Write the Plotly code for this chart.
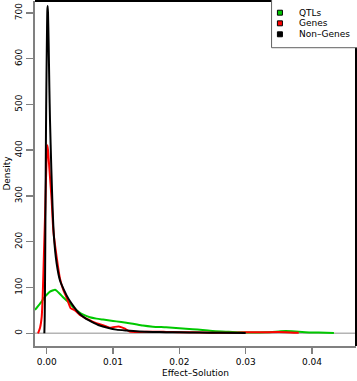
import plotly.graph_objects as go

# ---- data ----
series_names = ["QTLs", "Genes", "Non\u2013Genes"]
series_colors = ["#00c800", "#ff0000", "#000000"]

qtl_x = [-0.00176, -0.001, -0.00075, -0.0005, 0.0, 0.0005, 0.001, 0.00125, 0.0015, 0.002, 0.0026,
         0.0033, 0.004, 0.0048, 0.0056, 0.0065, 0.0075, 0.0085, 0.0095, 0.0105, 0.012, 0.013,
         0.0145, 0.016, 0.018, 0.02, 0.022, 0.0235, 0.025, 0.027, 0.029, 0.031, 0.033, 0.035,
         0.036, 0.037, 0.039, 0.041, 0.0433]
qtl_y = [51, 65, 69, 76, 84, 91, 94, 95, 93, 86, 77,
         68, 57, 47, 40, 35, 32, 30, 28, 26, 23, 21,
         17, 14.5, 13, 11, 9, 7, 5, 3.5, 2, 1.5, 2, 4,
         5, 4.5, 2.5, 1.5, 0.5]

gene_x = [-0.0013, -0.001, -0.00075, -0.0006, -0.0004, -0.0002, 0.0, 0.0001, 0.0002, 0.0005,
          0.00075, 0.001, 0.0015, 0.002, 0.0025, 0.003, 0.0033, 0.0036, 0.004, 0.0045, 0.005,
          0.006, 0.007, 0.0075, 0.008, 0.009, 0.0095, 0.0103, 0.011, 0.0118, 0.0125, 0.014,
          0.016, 0.018, 0.02, 0.022, 0.025, 0.028, 0.03, 0.033, 0.036, 0.038]
gene_y = [0, 12, 36, 80, 180, 280, 390, 411, 400, 341,
          291, 225, 167, 120, 95, 78, 66, 55, 52, 47, 40,
          32, 25, 22, 20, 15, 12, 14, 14.5, 10, 4, 3,
          3.5, 3, 2.5, 2, 1, 1, 2, 2.5, 2.5, 1]

nongene_x = [-0.00035, -0.0003, -0.00025, -0.0002, -0.00015, -0.0001, -0.00005, 0.0, 0.00005,
             0.0001, 0.00015, 0.0002, 0.0003, 0.0004, 0.0005, 0.0007, 0.0009, 0.0011, 0.0015,
             0.002, 0.0026, 0.0033, 0.004, 0.0048, 0.0058, 0.0068, 0.008, 0.0092, 0.0105, 0.012,
             0.014, 0.016, 0.018, 0.02, 0.023, 0.026, 0.03]
nongene_y = [0, 30, 110, 220, 340, 450, 530, 600, 660,
             705, 715, 700, 630, 540, 466, 360, 270, 210, 153,
             116, 95, 75, 60, 45, 33, 25, 17, 12, 8, 6,
             4, 3, 2.5, 2, 1.5, 1, 0.5]

x_ticks = [0.00, 0.01, 0.02, 0.03, 0.04]
x_tick_labels = ["0.00", "0.01", "0.02", "0.03", "0.04"]
y_ticks = [0, 100, 200, 300, 400, 500, 600, 700]

FONT = "DejaVu Sans"
fig = go.Figure()

# baseline at density 0
fig.add_hline(y=0, line=dict(color="#b4b4b4", width=1.5), layer="below")

for xs, ys, name, col in [(qtl_x, qtl_y, series_names[0], series_colors[0]),
                          (gene_x, gene_y, series_names[1], series_colors[1]),
                          (nongene_x, nongene_y, series_names[2], series_colors[2])]:
    fig.add_trace(go.Scatter(x=xs, y=ys, mode="lines", name=name, showlegend=False,
                             line=dict(color=col, width=2, shape="spline", smoothing=0.6)))

# top/right black frame
fig.add_shape(type="line", xref="paper", yref="paper", x0=0, x1=1, y0=1, y1=1,
              line=dict(color="black", width=2))
fig.add_shape(type="line", xref="paper", yref="paper", x0=1, x1=1, y0=0, y1=1,
              line=dict(color="black", width=2))

# custom legend (box, squares, labels)
fig.add_shape(type="rect", xref="paper", yref="paper", x0=0.737, x1=1.01, y0=0.8646, y1=1.01,
              line=dict(color="#606060", width=1), fillcolor="white")
leg_y = [0.9661, 0.9353, 0.9035]
for name, col, yy in zip(series_names, series_colors, leg_y):
    fig.add_shape(type="rect", xref="paper", yref="paper",
                  x0=0.763 - 0.0078, x1=0.763 + 0.0078, y0=yy - 0.0072, y1=yy + 0.0072,
                  line=dict(color="black", width=1), fillcolor=col)
    fig.add_annotation(xref="paper", yref="paper", x=0.816, y=yy, text=name, showarrow=False,
                       xanchor="left", yanchor="middle", font=dict(family=FONT, size=9, color="black"))

fig.update_layout(
    width=357, height=381,
    margin=dict(l=35, r=1, t=1, b=35, autoexpand=False),
    plot_bgcolor="white", paper_bgcolor="white",
    font=dict(family=FONT, size=9, color="black"),
    xaxis=dict(range=[-0.00176, 0.04663], tickvals=x_ticks, ticktext=x_tick_labels,
               automargin=False,
               showgrid=False, zeroline=False, showline=True, linecolor="#808080", linewidth=2,
               ticks="outside", ticklen=6, tickcolor="#808080", tickwidth=1.5,
               title=dict(text="Effect\u2013Solution", standoff=4, font=dict(size=9))),
    yaxis=dict(range=[-27.8, 726], tickvals=y_ticks, tickangle=-90,
               automargin=False,
               showgrid=False, zeroline=False, showline=True, linecolor="#808080", linewidth=2,
               ticks="outside", ticklen=7, tickcolor="#808080", tickwidth=1.5,
               title=dict(text="Density", standoff=2, font=dict(size=9))),
)

fig.write_html("out.html", config={"displayModeBar": False, "staticPlot": True},
               post_script="document.body.style.margin='0';document.body.style.overflow='hidden';")
